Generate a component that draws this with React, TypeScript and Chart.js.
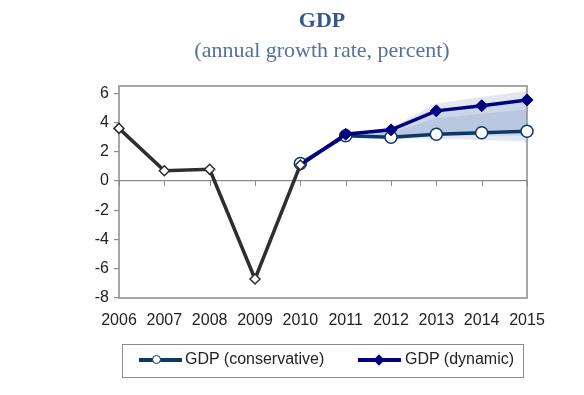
import React, { useEffect, useRef } from "react";
import { Chart, registerables } from "chart.js";

Chart.register(...registerables);

const years = ["2006", "2007", "2008", "2009", "2010", "2011", "2012", "2013", "2014", "2015"];
const historical = [3.6, 0.7, 0.8, -6.7, 1.1, null, null, null, null, null];
const conservative = [null, null, null, null, 1.2, 3.1, 3.0, 3.2, 3.3, 3.4];
const dynamic = [null, null, null, null, 1.1, 3.2, 3.5, 4.8, 5.15, 5.55];
const fanOuterUpper = [null, null, null, null, null, 3.15, 3.65, 5.3, 5.75, 6.15];
const fanOuterLower = [null, null, null, null, null, 3.1, 2.9, 2.9, 2.8, 2.7];
const fanMidUpper = [null, null, null, null, null, 3.15, 3.5, 4.8, 5.15, 5.55];
const fanMidLower = [null, null, null, null, null, 3.1, 3.0, 3.1, 3.1, 3.1];
const fanInnerUpper = [null, null, null, null, null, 3.1, 3.3, 4.3, 4.6, 4.9];
const fanInnerLower = [null, null, null, null, null, 3.1, 3.05, 3.3, 3.4, 3.55];
const yTickValues = [-8, -6, -4, -2, 0, 2, 4, 6];
const yMin = -8;
const yMax = 6.5;
const titleText = "GDP";
const subtitleText = "(annual growth rate, percent)";

const fanColor = "rgba(120,145,195,0.21)";
const frameColor = "#8a8a8a";

const framePlugin = {
  id: "frameTicks",
  beforeDatasetsDraw(chart: any) {
    const { ctx, chartArea: a, scales } = chart;
    const y0 = scales.y.getPixelForValue(0);
    ctx.save();
    ctx.strokeStyle = frameColor;
    ctx.lineWidth = 1;
    years.forEach((_, i) => {
      const x = Math.round(scales.x.getPixelForValue(i)) + 0.5;
      ctx.beginPath();
      ctx.moveTo(x, y0);
      ctx.lineTo(x, y0 + 5);
      ctx.stroke();
    });
    ctx.lineWidth = 1.5;
    ctx.strokeRect(a.left, a.top, a.width, a.height);
    ctx.restore();
  },
};

function band(data: (number | null)[], fill: any, order: number) {
  return {
    label: "",
    data,
    borderWidth: 0,
    pointRadius: 0,
    backgroundColor: fanColor,
    fill,
    order,
  };
}

export default function App() {
  const ref = useRef<HTMLCanvasElement>(null);
  useEffect(() => {
    if (!ref.current) return;
    const chart = new Chart(ref.current, {
      type: "line",
      data: {
        labels: years,
        datasets: [
          {
            label: "History",
            data: historical,
            borderColor: "#2e2e2e",
            borderWidth: 3.5,
            pointStyle: "rectRot",
            pointRadius: 5,
            pointBackgroundColor: "#ffffff",
            pointBorderColor: "#2e2e2e",
            pointBorderWidth: 1.5,
            clip: false,
            order: 0,
          } as any,
          {
            label: "GDP (dynamic)",
            data: dynamic,
            borderColor: "#000080",
            borderWidth: 3.5,
            pointStyle: "rectRot",
            pointRadius: (c: any) => (c.dataIndex === 4 ? 0 : 6),
            pointBackgroundColor: "#000080",
            pointBorderColor: "#000080",
            pointBorderWidth: 1,
            clip: false,
            order: 1,
          },
          {
            label: "GDP (conservative)",
            data: conservative,
            borderColor: "#0b3866",
            borderWidth: 3.5,
            pointStyle: "circle",
            pointRadius: 6,
            pointBackgroundColor: "#ffffff",
            pointBorderColor: "#0b3866",
            pointBorderWidth: 1.5,
            clip: false,
            order: 2,
          },
          band(fanOuterUpper, "+1", 10),
          band(fanOuterLower, false, 11),
          band(fanMidUpper, "+1", 12),
          band(fanMidLower, false, 13),
          band(fanInnerUpper, "+1", 14),
          band(fanInnerLower, false, 15),
        ] as any,
      },
      options: {
        animation: false,
        responsive: false,
        maintainAspectRatio: false,
        layout: { padding: { left: 60, right: 57, top: 86, bottom: 67 } },
        plugins: {
          legend: { display: false },
          tooltip: { enabled: false },
          title: { display: false },
        },
        scales: {
          x: {
            offset: false,
            grid: { display: false, drawTicks: false },
            border: { display: false },
            ticks: {
              color: "#222",
              font: { family: "'Liberation Sans', Arial, sans-serif", size: 16 },
              padding: 13,
              autoSkip: false,
              maxRotation: 0,
            },
            afterFit: (s: any) => {
              s.height = 30;
            },
          },
          y: {
            min: yMin,
            max: yMax,
            afterBuildTicks: (s: any) => {
              s.ticks = yTickValues.map((v) => ({ value: v }));
            },
            grid: {
              color: (c: any) => (c.tick && c.tick.value === 0 ? frameColor : "rgba(0,0,0,0)"),
              tickColor: frameColor,
              tickLength: 5,
              lineWidth: 1.2,
            },
            border: { display: false },
            ticks: {
              color: "#222",
              font: { family: "'Liberation Sans', Arial, sans-serif", size: 16 },
              padding: 5,
            },
            afterFit: (s: any) => {
              s.width = 59;
            },
          },
        },
      },
      plugins: [framePlugin],
    });
    return () => chart.destroy();
  }, []);

  const legendFont = "'Liberation Sans', Arial, sans-serif";
  const serif = "'Liberation Serif', 'DejaVu Serif', serif";
  return (
    <div style={{ position: "absolute", left: 0, top: 0, width: 584, height: 395, background: "#fff" }}>
      <canvas ref={ref} width={584} height={395} style={{ display: "block" }} />
      <div
        style={{
          position: "absolute",
          left: 122,
          top: 7,
          width: 400,
          textAlign: "center",
          font: `bold 22px/26px ${serif}`,
          color: "#35598f",
        }}
      >
        {titleText}
      </div>
      <div
        style={{
          position: "absolute",
          left: 122,
          top: 37,
          width: 400,
          textAlign: "center",
          font: `22px/26px ${serif}`,
          color: "#5670a0",
          whiteSpace: "nowrap",
        }}
      >
        {subtitleText}
      </div>
      <div
        style={{
          position: "absolute",
          left: 122,
          top: 344,
          width: 400,
          height: 32,
          border: "1px solid #8a8a8a",
        }}
      />
      <div style={{ position: "absolute", left: 139, top: 358, width: 43, height: 4, background: "#0b3866" }} />
      <div
        style={{
          position: "absolute",
          left: 152,
          top: 355,
          width: 7,
          height: 7,
          borderRadius: "50%",
          background: "#fff",
          border: "1.5px solid #0b3866",
        }}
      />
      <div
        style={{
          position: "absolute",
          left: 185,
          top: 350,
          height: 20,
          lineHeight: "20px",
          font: `16px ${legendFont}`,
          color: "#222",
          whiteSpace: "nowrap",
        }}
      >
        GDP (conservative)
      </div>
      <div style={{ position: "absolute", left: 358, top: 358, width: 43, height: 4, background: "#000080" }} />
      <div
        style={{
          position: "absolute",
          left: 375,
          top: 356,
          width: 8,
          height: 8,
          background: "#000080",
          transform: "rotate(45deg)",
        }}
      />
      <div
        style={{
          position: "absolute",
          left: 405,
          top: 350,
          height: 20,
          lineHeight: "20px",
          font: `16px ${legendFont}`,
          color: "#222",
          whiteSpace: "nowrap",
        }}
      >
        GDP (dynamic)
      </div>
    </div>
  );
}
